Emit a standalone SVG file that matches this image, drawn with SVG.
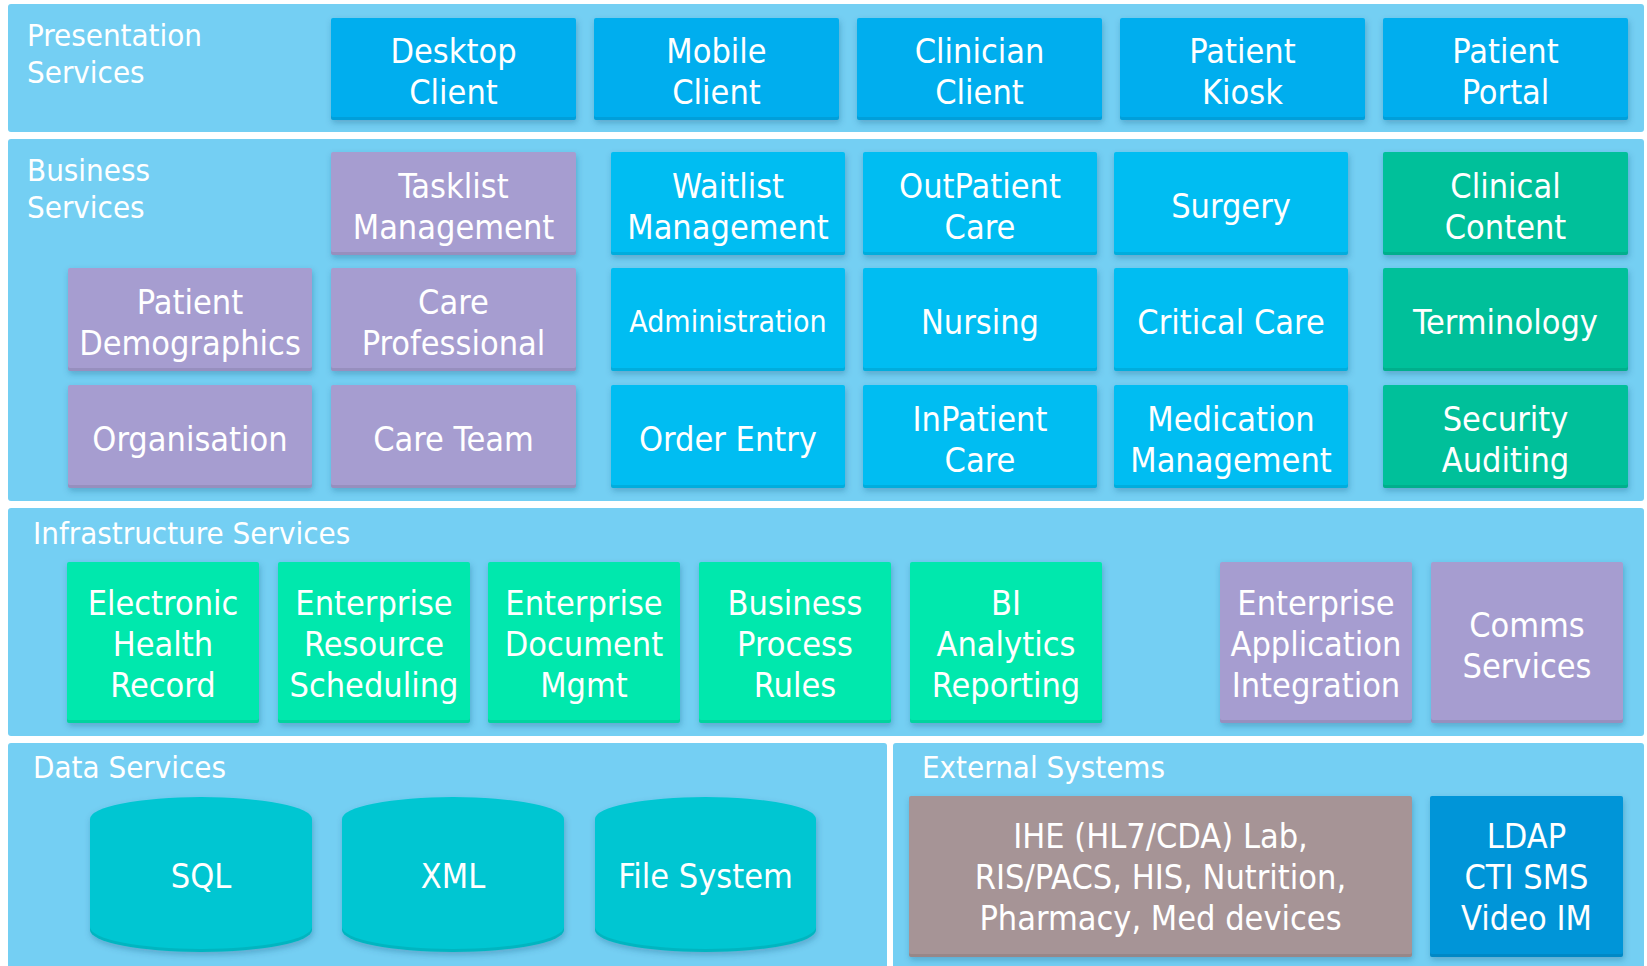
<svg xmlns="http://www.w3.org/2000/svg" width="1647" height="966" viewBox="0 0 1647 966">
<style>
.panel{fill:#74cff3}
.lbl{fill:#fff;font-family:"DejaVu Sans Condensed","DejaVu Sans",sans-serif;font-stretch:condensed;font-size:31px}
.t{fill:#fff;font-family:"DejaVu Sans Condensed","DejaVu Sans",sans-serif;font-stretch:condensed;font-size:34px;text-anchor:middle}
.box{filter:url(#sh)}
.pb{fill:#00aeee}
.bb{fill:#00bdf2}
.pu{fill:#a69dd0}
.dg{fill:#00c09a}
.ig{fill:#00e8ad}
.cy{fill:#00c6d2}
.ext{fill:#a69496}
.ld{fill:#0095d8}
</style>
<defs>
<filter id="sh" x="-5%" y="-8%" width="112%" height="125%">
<feGaussianBlur in="SourceAlpha" stdDeviation="3" result="b"/>
<feOffset in="b" dx="1" dy="3" result="ob"/>
<feFlood flood-color="#1a4a70" flood-opacity="0.3"/>
<feComposite in2="ob" operator="in" result="shadow"/>
<feOffset in="SourceAlpha" dy="-3" result="up"/>
<feComposite in="SourceAlpha" in2="up" operator="out" result="bottom"/>
<feFlood flood-color="#000" flood-opacity="0.18"/>
<feComposite in2="bottom" operator="in" result="edge"/>
<feMerge><feMergeNode in="shadow"/><feMergeNode in="SourceGraphic"/><feMergeNode in="edge"/></feMerge>
</filter>
</defs>
<rect width="1647" height="966" fill="#fff"/>

<g id="panels">
<rect class="panel" x="8" y="4" width="1636" height="128" rx="3"/>
<rect class="panel" x="8" y="139" width="1636" height="362" rx="3"/>
<rect class="panel" x="8" y="508" width="1636" height="228" rx="3"/>
<rect class="panel" x="8" y="743" width="879" height="226" rx="3"/>
<rect class="panel" x="893" y="743" width="751" height="226" rx="3"/>
<text class="lbl" x="27" y="46">Presentation</text>
<text class="lbl" x="27" y="83">Services</text>
<text class="lbl" x="27" y="181">Business</text>
<text class="lbl" x="27" y="218">Services</text>
<text class="lbl" x="33" y="544">Infrastructure Services</text>
<text class="lbl" x="33" y="778">Data Services</text>
<text class="lbl" x="922" y="778">External Systems</text>
</g>

<g id="presentation">
<g id="desktop-client"><rect class="box pb" x="331" y="18" width="245" height="102" rx="2"/><text class="t" x="453.5" y="63">Desktop</text><text class="t" x="453.5" y="104">Client</text></g>
<g id="mobile-client"><rect class="box pb" x="594" y="18" width="245" height="102" rx="2"/><text class="t" x="716.5" y="63">Mobile</text><text class="t" x="716.5" y="104">Client</text></g>
<g id="clinician-client"><rect class="box pb" x="857" y="18" width="245" height="102" rx="2"/><text class="t" x="979.5" y="63">Clinician</text><text class="t" x="979.5" y="104">Client</text></g>
<g id="patient-kiosk"><rect class="box pb" x="1120" y="18" width="245" height="102" rx="2"/><text class="t" x="1242.5" y="63">Patient</text><text class="t" x="1242.5" y="104">Kiosk</text></g>
<g id="patient-portal"><rect class="box pb" x="1383" y="18" width="245" height="102" rx="2"/><text class="t" x="1505.5" y="63">Patient</text><text class="t" x="1505.5" y="104">Portal</text></g>
</g>

<g id="business">
<g id="tasklist"><rect class="box pu" x="331" y="152" width="245" height="103" rx="2"/><text class="t" x="453.5" y="197.5">Tasklist</text><text class="t" x="453.5" y="238.5">Management</text></g>
<g id="waitlist"><rect class="box bb" x="611" y="152" width="234" height="103" rx="2"/><text class="t" x="728" y="197.5">Waitlist</text><text class="t" x="728" y="238.5">Management</text></g>
<g id="outpatient"><rect class="box bb" x="863" y="152" width="234" height="103" rx="2"/><text class="t" x="980" y="197.5">OutPatient</text><text class="t" x="980" y="238.5">Care</text></g>
<g id="surgery"><rect class="box bb" x="1114" y="152" width="234" height="103" rx="2"/><text class="t" x="1231" y="218">Surgery</text></g>
<g id="clinical-content"><rect class="box dg" x="1383" y="152" width="245" height="103" rx="2"/><text class="t" x="1505.5" y="197.5">Clinical</text><text class="t" x="1505.5" y="238.5">Content</text></g>

<g id="patient-demographics"><rect class="box pu" x="68" y="268" width="244" height="103" rx="2"/><text class="t" x="190" y="313.5">Patient</text><text class="t" x="190" y="354.5">Demographics</text></g>
<g id="care-professional"><rect class="box pu" x="331" y="268" width="245" height="103" rx="2"/><text class="t" x="453.5" y="313.5">Care</text><text class="t" x="453.5" y="354.5">Professional</text></g>
<g id="administration"><rect class="box bb" x="611" y="268" width="234" height="103" rx="2"/><text class="t" x="728" y="332" style="font-size:30px">Administration</text></g>
<g id="nursing"><rect class="box bb" x="863" y="268" width="234" height="103" rx="2"/><text class="t" x="980" y="334">Nursing</text></g>
<g id="critical-care"><rect class="box bb" x="1114" y="268" width="234" height="103" rx="2"/><text class="t" x="1231" y="334">Critical Care</text></g>
<g id="terminology"><rect class="box dg" x="1383" y="268" width="245" height="103" rx="2"/><text class="t" x="1505.5" y="334">Terminology</text></g>

<g id="organisation"><rect class="box pu" x="68" y="385" width="244" height="103" rx="2"/><text class="t" x="190" y="451">Organisation</text></g>
<g id="care-team"><rect class="box pu" x="331" y="385" width="245" height="103" rx="2"/><text class="t" x="453.5" y="451">Care Team</text></g>
<g id="order-entry"><rect class="box bb" x="611" y="385" width="234" height="103" rx="2"/><text class="t" x="728" y="451">Order Entry</text></g>
<g id="inpatient"><rect class="box bb" x="863" y="385" width="234" height="103" rx="2"/><text class="t" x="980" y="430.5">InPatient</text><text class="t" x="980" y="471.5">Care</text></g>
<g id="medication"><rect class="box bb" x="1114" y="385" width="234" height="103" rx="2"/><text class="t" x="1231" y="430.5">Medication</text><text class="t" x="1231" y="471.5">Management</text></g>
<g id="security-auditing"><rect class="box dg" x="1383" y="385" width="245" height="103" rx="2"/><text class="t" x="1505.5" y="430.5">Security</text><text class="t" x="1505.5" y="471.5">Auditing</text></g>
</g>

<g id="infrastructure">
<g id="ehr"><rect class="box ig" x="67" y="562" width="192" height="161" rx="2"/><text class="t" x="163" y="615">Electronic</text><text class="t" x="163" y="656">Health</text><text class="t" x="163" y="697">Record</text></g>
<g id="ers"><rect class="box ig" x="278" y="562" width="192" height="161" rx="2"/><text class="t" x="374" y="615">Enterprise</text><text class="t" x="374" y="656">Resource</text><text class="t" x="374" y="697">Scheduling</text></g>
<g id="edm"><rect class="box ig" x="488" y="562" width="192" height="161" rx="2"/><text class="t" x="584" y="615">Enterprise</text><text class="t" x="584" y="656">Document</text><text class="t" x="584" y="697">Mgmt</text></g>
<g id="bpr"><rect class="box ig" x="699" y="562" width="192" height="161" rx="2"/><text class="t" x="795" y="615">Business</text><text class="t" x="795" y="656">Process</text><text class="t" x="795" y="697">Rules</text></g>
<g id="bi"><rect class="box ig" x="910" y="562" width="192" height="161" rx="2"/><text class="t" x="1006" y="615">BI</text><text class="t" x="1006" y="656">Analytics</text><text class="t" x="1006" y="697">Reporting</text></g>
<g id="eai"><rect class="box pu" x="1220" y="562" width="192" height="161" rx="2"/><text class="t" x="1316" y="615">Enterprise</text><text class="t" x="1316" y="656">Application</text><text class="t" x="1316" y="697">Integration</text></g>
<g id="comms"><rect class="box pu" x="1431" y="562" width="192" height="161" rx="2"/><text class="t" x="1527" y="636.5">Comms</text><text class="t" x="1527" y="677.5">Services</text></g>
</g>

<g id="data">
<g id="sql"><path class="box cy" d="M90,819 A111,22 0 0 1 312,819 V930 A111,22 0 0 1 90,930 Z"/><text class="t" x="201" y="888">SQL</text></g>
<g id="xml"><path class="box cy" d="M342,819 A111,22 0 0 1 564,819 V930 A111,22 0 0 1 342,930 Z"/><text class="t" x="453" y="888">XML</text></g>
<g id="file-system"><path class="box cy" d="M595,819 A110.5,22 0 0 1 816,819 V930 A110.5,22 0 0 1 595,930 Z"/><text class="t" x="705.5" y="888">File System</text></g>
</g>

<g id="external">
<g id="ihe"><rect class="box ext" x="909" y="796" width="503" height="161" rx="2"/><text class="t" x="1160.5" y="848">IHE (HL7/CDA) Lab,</text><text class="t" x="1160.5" y="889">RIS/PACS, HIS, Nutrition,</text><text class="t" x="1160.5" y="930">Pharmacy, Med devices</text></g>
<g id="ldap"><rect class="box ld" x="1430" y="796" width="193" height="161" rx="2"/><text class="t" x="1526.5" y="848">LDAP</text><text class="t" x="1526.5" y="889">CTI SMS</text><text class="t" x="1526.5" y="930">Video IM</text></g>
</g>

<g id="connectors"></g>
</svg>
